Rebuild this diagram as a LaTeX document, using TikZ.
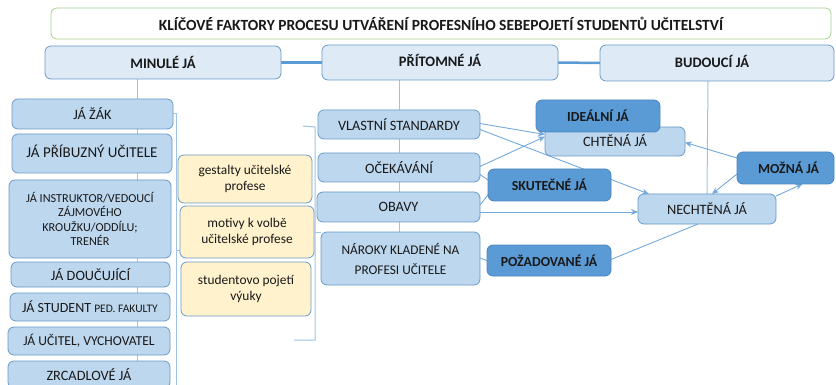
\documentclass[tikz,border=0pt]{standalone}
\usepackage{fontspec}
\setmainfont{Carlito}
\usetikzlibrary{calc,arrows.meta}
\pgfdeclarelayer{background}
\pgfsetlayers{background,main}
\definecolor{hdrfill}{HTML}{DEEBF7}
\definecolor{boxfill}{HTML}{BDD7EE}
\definecolor{boxdraw}{HTML}{6A9AC8}
\definecolor{darkfill}{HTML}{5B9BD5}
\definecolor{darkdraw}{HTML}{4A86C0}
\definecolor{yelfill}{HTML}{FFF2CC}
\definecolor{titledraw}{HTML}{A9D18E}
\definecolor{linec}{HTML}{5B9BD5}
\definecolor{lightline}{HTML}{9DC3E6}
\tikzset{
  base/.style={rounded corners=6pt, line width=0.8pt, inner sep=0pt, outer sep=0pt, align=center, text=black!90},
  tbox/.style={base, fill=white, draw=titledraw, font=\fontsize{15.5}{18}\selectfont\bfseries},
  hdr/.style={base, fill=hdrfill, draw=boxdraw, font=\fontsize{14.5}{17}\selectfont\bfseries},
  lbox/.style={base, fill=boxfill, draw=boxdraw, font=\fontsize{14.3}{17}\selectfont},
  ybox/.style={base, fill=yelfill, draw=boxdraw, font=\fontsize{13.4}{16}\selectfont},
  dbox/.style={base, fill=darkfill, draw=darkdraw, font=\fontsize{13.8}{16}\selectfont\bfseries},
  thick conn/.style={draw=linec, line width=2.5pt},
  lconn/.style={draw=lightline, line width=1pt},
  conn/.style={draw=linec!85, line width=0.9pt},
  arr/.style={conn, -{Stealth[length=7pt,width=6pt]}},
}
\begin{document}
\begin{tikzpicture}[x=1pt,y=-1pt]
\useasboundingbox (0,0) rectangle (836,385);
% title and headers
\node[tbox, minimum width=780pt, minimum height=31pt] (title) at (441,23.5) {KLÍČOVÉ FAKTORY PROCESU UTVÁŘENÍ PROFESNÍHO SEBEPOJETÍ STUDENTŮ UČITELSTVÍ};
\node[hdr, minimum width=236pt, minimum height=33pt] (minule) at (163,62.5) {MINULÉ JÁ};
\node[hdr, minimum width=236pt, minimum height=35pt] (pritomne) at (440,62.5) {\raisebox{4pt}{PŘÍTOMNÉ JÁ}};
\node[hdr, minimum width=234pt, minimum height=36pt] (budouci) at (717,63) {\raisebox{4pt}{\hspace*{-10pt}BUDOUCÍ JÁ}};
% left column
\node[lbox, minimum width=161pt, minimum height=30pt] (zak) at (92.5,114) {JÁ ŽÁK};
\node[lbox, minimum width=160pt, minimum height=39pt, font=\fontsize{15}{17}\selectfont] (pribuzny) at (92,153.5) {\raisebox{5pt}{JÁ PŘÍBUZNÝ UČITELE}};
\node[lbox, minimum width=162pt, minimum height=78pt, font=\fontsize{12.2}{14.5}\selectfont] (instruktor) at (90,219) {JÁ INSTRUKTOR/VEDOUCÍ\\ZÁJMOVÉHO\\KROUŽKU/ODDÍLU;\\TRENÉR};
\node[lbox, minimum width=159pt, minimum height=25pt] (doucujici) at (90.5,274.5) {JÁ DOUČUJÍCÍ};
\node[lbox, minimum width=160pt, minimum height=28pt, font=\fontsize{14}{17}\selectfont] (student) at (90,307) {JÁ STUDENT {\fontsize{11.5}{14}\selectfont PED. FAKULTY}};
\node[lbox, minimum width=162pt, minimum height=28pt, font=\fontsize{13.6}{17}\selectfont] (ucitel) at (89,341) {JÁ UČITEL, VYCHOVATEL};
\node[lbox, minimum width=162pt, minimum height=27pt] (zrcadlove) at (89,374.5) {ZRCADLOVÉ JÁ};
% yellow boxes
\node[ybox, minimum width=134pt, minimum height=48pt] (gestalty) at (245,179) {gestalty učitelské\\profese};
\node[ybox, minimum width=134pt, minimum height=52pt] (motivy) at (247,232) {motivy k volbě\\učitelské profese};
\node[ybox, minimum width=130pt, minimum height=54pt] (pojeti) at (246,289) {\raisebox{3pt}{\begin{tabular}{@{}c@{}}studentovo pojetí\\výuky\end{tabular}}};
% middle column
\node[lbox, minimum width=162pt, minimum height=29pt] (vlastni) at (399,124.5) {VLASTNÍ STANDARDY};
\node[lbox, minimum width=162pt, minimum height=29pt] (ocekavani) at (399,167.5) {OČEKÁVÁNÍ};
\node[lbox, minimum width=163pt, minimum height=30pt] (obavy) at (398.5,207) {OBAVY};
\node[lbox, minimum width=159pt, minimum height=53pt, font=\fontsize{13.3}{20}\selectfont] (naroky) at (400.5,258.5) {NÁROKY KLADENÉ NA\\PROFESI UČITELE};
% selves
\node[dbox, minimum width=123pt, minimum height=32pt] (skutecne) at (549.5,185) {SKUTEČNÉ JÁ};
\node[lbox, minimum width=140pt, minimum height=29pt] (chtena) at (615,141.5) {\raisebox{1pt}{CHTĚNÁ JÁ}};
\node[dbox, minimum width=124pt, minimum height=32pt] (idealni) at (598,116) {IDEÁLNÍ JÁ};
\node[lbox, minimum width=138pt, minimum height=30pt] (nechtena) at (707,209) {NECHTĚNÁ JÁ};
\node[dbox, minimum width=97pt, minimum height=32pt] (mozna) at (785.5,168) {\hspace*{6pt}MOŽNÁ JÁ};
\node[dbox, minimum width=124pt, minimum height=31pt] (pozadovane) at (549,260.5) {POŽADOVANÉ JÁ};
% helper coordinates
\coordinate (lb) at (137,385);
\coordinate (lbk) at (176,385);
\coordinate (rb1) at (303,126);
\coordinate (rb2) at (315,127);
\coordinate (rb3) at (315,340);
\coordinate (rb4) at (294,340);
\begin{pgfonlayer}{background}
\draw[thick conn] (minule.east) -- (pritomne.west);
\draw[thick conn] (pritomne.east) -- (budouci.west);
\draw[lconn] (minule.south -| lb) -- (lb);
\draw[lconn] (zak.east) -| (lbk);
\draw[lconn] ([yshift=-18pt]motivy.west) -- ([yshift=-18pt]motivy.west -| lbk);
\draw[lconn] (rb1) -- (rb2) -- (rb3) -- (rb4);
\draw[lconn] (naroky.north west) -- (naroky.north west -| rb2);
\draw[lconn] (pritomne.south -| vlastni.north) -- (naroky.north -| vlastni.north);
\draw[lconn] ([xshift=-9pt]budouci.south) -- (nechtena.north);
% connectors among middle and right
\draw[arr] ([yshift=1pt]vlastni.east) -- ($(chtena.west)+(0,-7)$);
\draw[arr] ([yshift=-5pt]vlastni.east) -- ($(nechtena.north west)+(11,0)$);
\draw[arr] ([yshift=1pt]ocekavani.east) -- ($(chtena.west)+(0,-5)$);
\draw[conn] ([yshift=-7pt]ocekavani.east) -- ([yshift=5pt]skutecne.west);
\draw[conn] ([yshift=2pt]obavy.east) -- ([yshift=-10pt]skutecne.west);
\draw[arr] ([yshift=-5pt]obavy.east) -- ([yshift=-3pt]nechtena.west);
\draw[arr] ([yshift=10pt]mozna.west) -- ([yshift=-1pt]chtena.east);
\draw[arr] ([yshift=-6pt]mozna.west) -- ($(nechtena.north)+(5,0)$);
\draw[arr] ([yshift=13pt]nechtena.east) -- ($(mozna.south)+(17,0)$);
\draw[conn] ([yshift=1pt]pozadovane.east) -- ($(nechtena.south)+(-9,0)$);
\draw[conn] ([yshift=0.5pt]naroky.east) -- (pozadovane.west);
\end{pgfonlayer}
\end{tikzpicture}
\end{document}
